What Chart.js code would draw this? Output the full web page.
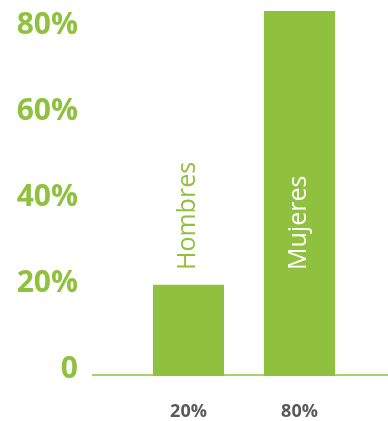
<!DOCTYPE html>
<html>
<head>
<meta charset="utf-8">
<script src="https://cdn.jsdelivr.net/npm/chart.js@4/dist/chart.umd.min.js"></script>
<style>
  html, body { margin: 0; padding: 0; background: #fff; }
  canvas { display: block; }
</style>
</head>
<body>
<canvas id="myChart" width="388" height="421"></canvas>
<script>
const categories = ['Hombres', 'Mujeres'];
const shares = [20, 80];
const shareLabels = ['20%', '80%'];
const yTicks = [0, 20, 40, 60, 80];

const green = '#8fc13e';
const lineGreen = '#a9d26e';

// línea base y nombres verticales sobre las barras
const barDecor = {
    id: 'barDecor',
    beforeDatasetsDraw(chart) {
        const { ctx } = chart;
        const y = chart.scales.y.getPixelForValue(0);
        ctx.save();
        ctx.strokeStyle = lineGreen;
        ctx.lineWidth = 2;
        ctx.beginPath();
        ctx.moveTo(92, y - 1);
        ctx.lineTo(chart.width, y - 1);
        ctx.stroke();
        ctx.restore();
    },
    afterDatasetsDraw(chart) {
        const { ctx, chartArea } = chart;
        const startY = chartArea.bottom - 106;
        ctx.save();
        ctx.font = '400 25px "Open Sans"';
        ctx.textAlign = 'left';
        ctx.textBaseline = 'middle';
        chart.getDatasetMeta(0).data.forEach((bar, i) => {
            ctx.save();
            ctx.translate(bar.x - 1, startY);
            ctx.rotate(-Math.PI / 2);
            ctx.fillStyle = bar.y < startY ? '#ffffff' : green;
            ctx.fillText(categories[i], 0, 0);
            ctx.restore();
        });
        ctx.restore();
    }
};

new Chart(document.getElementById('myChart'), {
    type: 'bar',
    data: {
        labels: categories,
        datasets: [{
            data: shares,
            backgroundColor: green,
            categoryPercentage: 1,
            barPercentage: 0.64
        }]
    },
    options: {
        responsive: false,
        animation: false,
        layout: { padding: { top: 11, right: 33, bottom: 0, left: 0 } },
        plugins: {
            legend: { display: false },
            tooltip: { enabled: false }
        },
        scales: {
            x: {
                afterFit: axis => {
                    axis.height = 45;
                    axis.paddingLeft = 0;
                    axis.paddingRight = 0;
                },
                grid: { display: false, drawTicks: false },
                border: { display: false },
                ticks: {
                    padding: 25,
                    color: '#595959',
                    font: { family: 'Open Sans', size: 18, weight: 'bold' },
                    callback: (v, i) => shareLabels[i]
                }
            },
            y: {
                display: false,
                min: 0,
                max: 80
            },
            yl: {
                type: 'linear',
                position: 'left',
                min: -2.1,
                max: 83,
                afterBuildTicks: axis => { axis.ticks = yTicks.map(v => ({ value: v })); },
                afterFit: axis => {
                    axis.width = 133;
                    axis.paddingTop = 0;
                    axis.paddingBottom = 0;
                },
                grid: { display: false, drawTicks: false },
                border: { display: false },
                ticks: {
                    padding: 55,
                    labelOffset: 2,
                    color: green,
                    font: { family: 'Open Sans', size: 30, weight: 'bold' },
                    callback: v => v === 0 ? '0' : v + '%'
                }
            }
        }
    },
    plugins: [barDecor]
});
</script>
</body>
</html>
